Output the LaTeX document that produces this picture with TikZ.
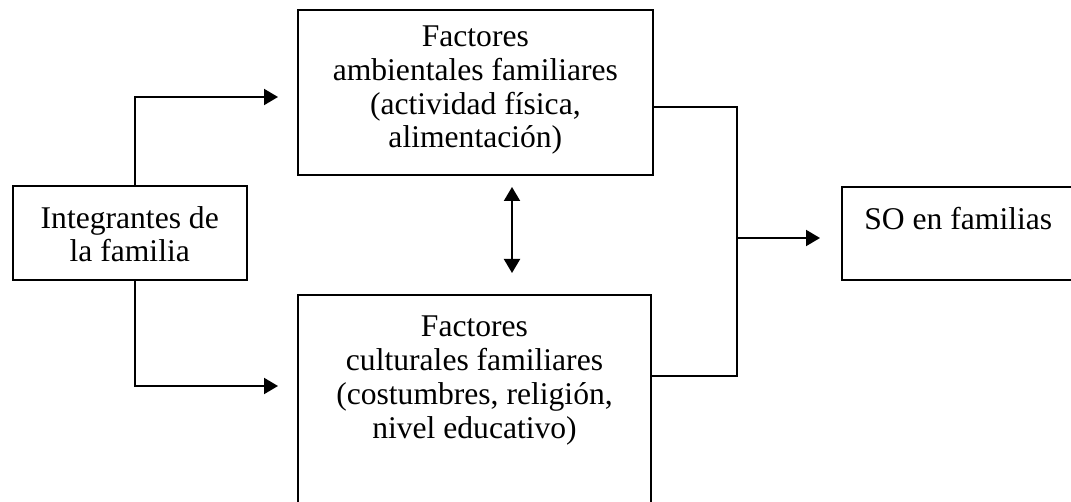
\documentclass[tikz,border=0pt]{standalone}
\usepackage{fontspec}
\setmainfont{Liberation Serif}
\usetikzlibrary{arrows.meta}
\begin{document}
\begin{tikzpicture}[x=0.5pt,y=-0.5pt,
  box/.style={draw,line width=1pt,inner sep=0pt,minimum width=#1},
  txt/.style={align=center,inner sep=0pt,anchor=base,font=\fontsize{15.8pt}{16.9pt}\selectfont},
  conn/.style={line width=1pt},
  arr/.style={line width=1pt,-{Triangle[length=7pt,width=8pt]}},
  dbl/.style={line width=1pt,{Triangle[length=7pt,width=8pt]}-{Triangle[length=7pt,width=8pt]}}
]
\clip (0,0) rectangle (1071,502);
\fill[white] (0,0) rectangle (1071,502);
% boxes
\node[box=117.25pt,minimum height=47pt] (left) at (129.75,233) {};
\node[box=177.35pt,minimum height=82.5pt] (top) at (475.35,92.5) {};
\node[box=176.5pt,minimum height=109.7pt] (bot) at (474.5,405) {};
\node[box=124pt,minimum height=46.65pt] (so) at (966.35,233.35) {};
% texts (anchored at the baseline of the last line)
\node[txt] (lefttxt) at (129.75,262) {Integrantes de\\la familia};
\node[txt] (toptxt) at (475.35,148) {Factores\\ambientales familiares\\(actividad física,\\alimentación)};
\node[txt] (bottxt) at (474.5,438) {Factores\\culturales familiares\\(costumbres, religión,\\nivel educativo)};
\node[txt,anchor=base west] (sotxt) at (864,230) {SO en familias};
% helper coordinates
\coordinate (c1) at (135,0);
\coordinate (a1) at (278,97);
\coordinate (a2) at (278,386);
\coordinate (j1) at (737,107);
\coordinate (j2) at (737,376);
\coordinate (jm) at (737,238);
\coordinate (am) at (820,238);
\coordinate (d1) at (512,187);
\coordinate (d2) at (512,273);
% connectors
\draw[arr] (left.north -| c1) |- (a1);
\draw[arr] (left.south -| c1) |- (a2);
\draw[conn] (top.east |- j1) -- (j1) -- (j2) -- (bot.east |- j2);
\draw[arr] (jm) -- (am);
\draw[dbl] (d1) -- (d2);
\end{tikzpicture}
\end{document}
